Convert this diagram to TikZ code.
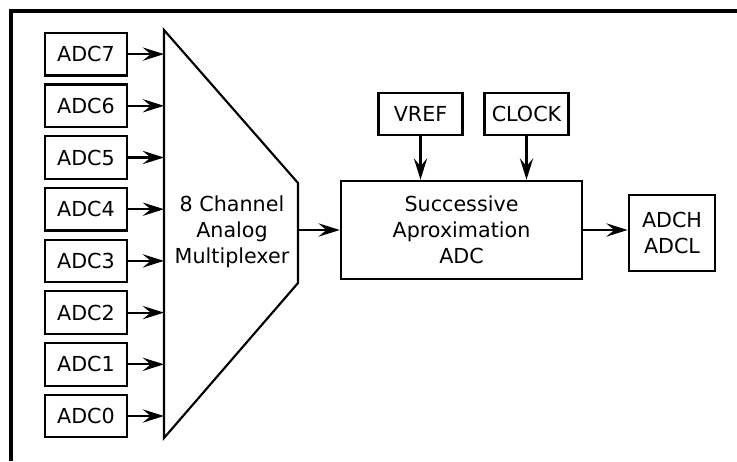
\documentclass[tikz,border=0pt]{standalone}
\usepackage{fontspec}
\setmainfont{DejaVu Sans}
\usetikzlibrary{arrows.meta,positioning}
\tikzset{
  block/.style={draw, inner sep=0pt, align=center},
  adcbox/.style={block, minimum width=62pt, minimum height=32pt},
}

\begin{document}
\begin{tikzpicture}[x=0.75pt, y=-0.75pt, >={Stealth[length=16pt,width=10pt,inset=6pt]}, font=\fontsize{15.5}{19.5}\selectfont, line width=1.6pt]
				\useasboundingbox (0,0) rectangle (737,461);
				% Rahmen
				\draw[line width=3pt] (11,461) -- (11,11) -- (737,11);
				% Eingaenge
				\foreach \i in {0,...,7} \node[adcbox] (adc\i) at (86,416-51.7*\i) {ADC\i};
				% Multiplexer
				\draw (164,30) coordinate (muxtop) -- (298,183) -- (298,283) -- (164,438) -- cycle;
				\node[align=center] (mux) at (232,232) {8 Channel\\Analog\\Multiplexer};
				\coordinate (muxout) at (298,230);
				\foreach \i in {0,...,7} \draw[->] (adc\i.east) -- (adc\i.east -| muxtop);
				% Wandler
				\node[block, minimum width=181pt, minimum height=74pt] (sar) at (461.5,230) {Successive\\Aproximation\\ADC};
				\node[adcbox, minimum width=63pt] (vref) at (420.5,114) {VREF};
				\node[adcbox, minimum width=63pt] (clock) at (526.5,114) {CLOCK};
				\node[block, minimum width=65pt, minimum height=57pt] (res) at (672,233) {ADCH\\ADCL};
				% Verbindungen
				\draw[->] (muxout) -- (sar.west |- muxout);
				\draw[->] (vref) -- (vref |- sar.north);
				\draw[->] (clock) -- (clock |- sar.north);
				\draw[->] (sar.east) -- (sar.east -| res.west);
		\end{tikzpicture}
\end{document}
